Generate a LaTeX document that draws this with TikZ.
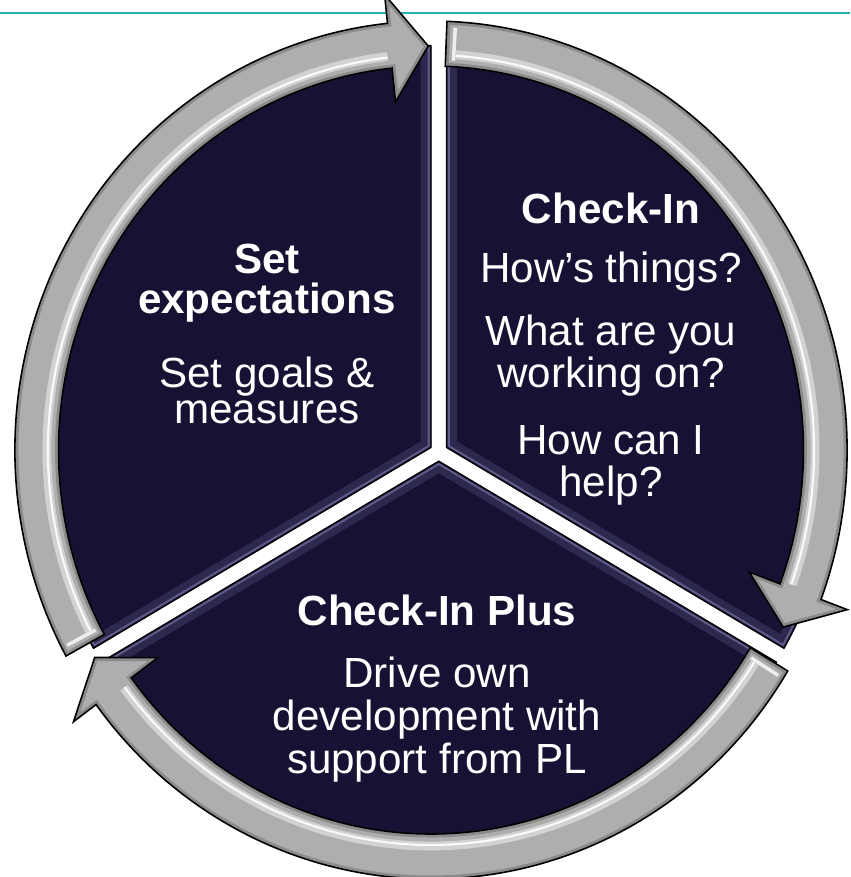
\documentclass[tikz,border=0pt]{standalone}
\usepackage{fontspec}
\setmainfont{Liberation Sans}
\usepackage{xcolor}
\definecolor{navy}{HTML}{161233}
\definecolor{lavender}{HTML}{8A86BA}
\definecolor{ringgray}{HTML}{AEAEAE}
\definecolor{rulecyan}{HTML}{27B3B6}

% ring geometry (1 unit = 1px)
\def\Rin{384}
\def\Rout{429}
\def\Hin{350}
\def\Hout{458}
\def\Rtip{404}
\def\Rsec{402}

% one bent arrow of the ring: tail angle, head-back angle, tip angle
\newcommand{\drawringarrow}[3]{%
  \path[ringarrow] ({#1}:\Rin) arc[start angle={#1}, end angle={#2}, radius=\Rin]
    -- ({#2}:\Hin) -- ({#3}:\Rtip) -- ({#2}:\Hout) -- ({#2}:\Rout)
    arc[start angle={#2}, end angle={#1}, radius=\Rout] -- cycle;
  \begin{scope}
    \clip ({#1}:\Rin) arc[start angle={#1}, end angle={#2}, radius=\Rin]
      -- ({#2}:\Hin) -- ({#3}:\Rtip) -- ({#2}:\Hout) -- ({#2}:\Rout)
      arc[start angle={#2}, end angle={#1}, radius=\Rout] -- cycle;
    \draw[black, opacity=0.2, line width=4pt] ({#1}:\Rin) arc[start angle={#1}, end angle={#2}, radius=\Rin]
      -- ({#2}:\Hin) -- ({#3}:\Rtip) -- ({#2}:\Hout) -- ({#2}:\Rout)
      arc[start angle={#2}, end angle={#1}, radius=\Rout] -- cycle;
    \draw[white, opacity=0.45, line width=5pt] ({#1-1.5}:396) arc[start angle={#1-1.5}, end angle={#2+0.5}, radius=396];
    \draw[white, opacity=0.9, line width=1.2pt] ({#1-1.5}:395) arc[start angle={#1-1.5}, end angle={#2+0.5}, radius=395];
    \draw[white, opacity=0.8, line width=2pt] ({#1-1.2}:\Rin+6) -- ({#1-1.2}:\Rout-6);
  \end{scope}
  \draw[ringedge] ({#1}:\Rin) arc[start angle={#1}, end angle={#2}, radius=\Rin]
    -- ({#2}:\Hin) -- ({#3}:\Rtip) -- ({#2}:\Hout) -- ({#2}:\Rout)
    arc[start angle={#2}, end angle={#1}, radius=\Rout] -- cycle;
}

\begin{document}
\begin{tikzpicture}[x=0.02cm, y=0.02cm,
  sector/.style={fill=navy},
  secedge/.style={draw=black, line width=0.6pt},
  ringarrow/.style={fill=ringgray},
  ringedge/.style={draw=black, line width=0.9pt, line join=miter},
  txt/.style={text=white, align=center, anchor=base, inner sep=0pt},
  body/.style={txt, font=\fontsize{24}{24}\selectfont},
  heading/.style={txt, font=\fontsize{24}{22}\selectfont\bfseries}
]
\useasboundingbox (-431,-427) rectangle (419,450);

% thin rule along the top
\draw[rulecyan, line width=1.1pt] (-431,437) -- (419,437);

\begin{scope}[xscale=0.97]
  % three pie slices, pushed a little apart
  \foreach \a/\b in {90/210, -30/90, 210/330} {
    \pgfmathsetmacro{\m}{(\a+\b)/2}
    \begin{scope}[shift={(8,-2)}, shift={(\m:9)}]
      \fill[sector] (0,0) -- (\a:\Rsec) arc[start angle=\a, end angle=\b, radius=\Rsec] -- cycle;
      \begin{scope}
        \clip (0,0) -- (\a:\Rsec) arc[start angle=\a, end angle=\b, radius=\Rsec] -- cycle;
        \draw[lavender, opacity=0.2, line width=12pt] (0,0) -- (\a:\Rsec) arc[start angle=\a, end angle=\b, radius=\Rsec] -- cycle;
        \draw[lavender, opacity=0.55, line width=4pt] (0,0) -- (\a:\Rsec) arc[start angle=\a, end angle=\b, radius=\Rsec] -- cycle;
        \draw[navy, line width=1.6pt] (0,0) -- (\a:\Rsec) arc[start angle=\a, end angle=\b, radius=\Rsec] -- cycle;
      \end{scope}
      \draw[secedge] (0,0) -- (\a:\Rsec) arc[start angle=\a, end angle=\b, radius=\Rsec] -- cycle;
    \end{scope}
  }

  % clockwise arrows round the rim
  \drawringarrow{208.7}{96}{90.4}
  \drawringarrow{87.8}{-20.4}{-26}
  \drawringarrow{-31}{-143.6}{-149.1}
\end{scope}

% slice texts (multi-line nodes sit on their last line)
\node[heading] (checkin) at (180,227) {Check-In};
\node[body] (hows) at (180,168) {How’s things?};
\node[body, font=\fontsize{24}{23.9}\selectfont] (working) at (180,63) {What are you\\working on?};
\node[body, font=\fontsize{24}{23.9}\selectfont] (help) at (180,-46) {How can I\\help?};

\node[heading, font=\fontsize{24}{22.6}\selectfont\bfseries] (setexp) at (-164,137) {Set\\expectations};
\node[body, font=\fontsize{24}{20.2}\selectfont] (goals) at (-164,27) {Set goals \&\\measures};

\node[heading] (plus) at (6,-175) {Check-In Plus};
\node[body, font=\fontsize{24}{24.3}\selectfont] (drive) at (6,-323) {Drive own\\development with\\support from PL};
\end{tikzpicture}
\end{document}
